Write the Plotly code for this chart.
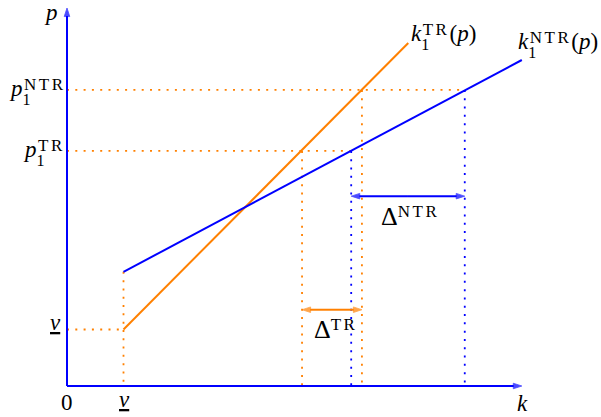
import plotly.graph_objects as go

ORANGE = "#ff8000"
BLUE = "#0000ff"
FONT = "Liberation Serif, DejaVu Serif, Times New Roman, serif"

# Price levels and capacity schedules (arbitrary units)
v_low = 1.0
p1_tr = 4.16
p1_ntr = 5.24
k_tr_line = [1.0, 6.04]
p_tr_line = [1.0, 6.07]
k_ntr_line = [1.0, 8.05]
p_ntr_line = [2.02, 5.77]
k_tr_at = [4.16, 5.22]    # k1^TR evaluated at p1^TR, p1^NTR
k_ntr_at = [5.03, 7.04]   # k1^NTR evaluated at p1^TR, p1^NTR
delta_ntr_level = 3.36
delta_tr_level = 1.35
k_axis_end = 8.05
p_axis_end = 6.69

SCALE = 56.5  # pixels per unit
W, H = 601, 417
X0, Y0 = 67, 386

DOT = "2px,6.3px"

fig = go.Figure()


def seg(xs, ys, color, dash=None, width=2.0, head=False):
    """Straight segment; with head=True an arrow tip is drawn at its last point."""
    fig.add_trace(go.Scatter(
        x=xs, y=ys, mode="lines+markers" if head else "lines",
        hoverinfo="skip", showlegend=False, cliponaxis=False,
        line=dict(color=color, width=width, dash=dash),
        marker=dict(symbol="arrow", size=[0, 9], angleref="previous",
                    color=color, line=dict(width=0.8, color=color)) if head else None,
    ))


# dotted guides
seg([0, k_ntr_at[1]], [p1_ntr, p1_ntr], ORANGE, DOT, 1.8)
seg([0, k_ntr_at[0]], [p1_tr, p1_tr], ORANGE, DOT, 1.8)
seg([0, v_low], [v_low, v_low], ORANGE, DOT, 1.8)
seg([v_low, v_low], [p_ntr_line[0], 0], ORANGE, DOT, 1.8)
seg([k_tr_at[0], k_tr_at[0]], [p1_tr, 0], ORANGE, DOT, 1.8)
seg([k_tr_at[1], k_tr_at[1]], [p1_ntr, 0], ORANGE, DOT, 1.8)
seg([k_ntr_at[0], k_ntr_at[0]], [p1_tr, 0], BLUE, DOT, 1.8)
seg([k_ntr_at[1], k_ntr_at[1]], [p1_ntr, 0], BLUE, DOT, 1.8)

# schedules
seg(k_tr_line, p_tr_line, ORANGE)
seg(k_ntr_line, p_ntr_line, BLUE)

# axes
seg([0, k_axis_end], [0, 0], BLUE, head=True)
seg([0, 0], [0, p_axis_end], BLUE, head=True)


def double_arrow(x0, x1, y, color):
    mid = (x0 + x1) / 2
    seg([mid, x0], [y, y], color, head=True)
    seg([mid, x1], [y, y], color, head=True)


# gaps between the two schedules
double_arrow(k_ntr_at[0], k_ntr_at[1], delta_ntr_level, BLUE)
double_arrow(k_tr_at[0], k_tr_at[1], delta_tr_level, ORANGE)


def note(x, y, text, dx=0, dy=0, size=23, xanchor="center"):
    fig.add_annotation(
        x=x, y=y, xref="x", yref="y", text=text, showarrow=False,
        xshift=dx, yshift=dy, xanchor=xanchor, yanchor="middle",
        borderpad=0, borderwidth=0,
        font=dict(family=FONT, size=size, color="black"),
    )


SUP, SUB = 17, 16


def script(base, sup, sub=None):
    """Base symbol with a superscript stacked over an optional subscript."""
    sup_span = (f'<span style="font-size:{SUP}px;letter-spacing:2.5px;'
                f'baseline-shift:{8 if sub is None else 6}px">{sup}</span>')
    if sub is None:
        return base + sup_span
    return (f'{base}<span style="font-size:{SUB}px;baseline-shift:-9px;'
            f'letter-spacing:-6.5px">{sub}</span>' + sup_span)


DELTA = '<span style="font-size:26px">\u0394</span>'

# axis labels
note(0, p_axis_end, "<i>p</i>", dx=-16, dy=-4.5)
note(k_axis_end, 0, "<i>k</i>", dx=1, dy=-17)
note(0, 0, "0", dy=-16)
note(v_low, 0, "<u><i>v</i></u>", dx=1, dy=-13)
note(0, v_low, "<u><i>v</i></u>", dx=-11.5, dy=7)

# price level labels
note(0, p1_ntr, script("<i>p</i>", "NTR", "1"), dx=-1.5, dy=-1.1, xanchor="right")
note(0, p1_tr, script("<i>p</i>", "TR", "1"), dx=-2.5, dy=-1.2, xanchor="right")

# schedule labels
note(k_tr_line[1], p_tr_line[1], script("<i>k</i>", "TR", "1") + "(<i>p</i>)",
     dx=2.7, dy=6.3, xanchor="left")
note(k_ntr_line[1], p_ntr_line[1], script("<i>k</i>", "NTR", "1") + "(<i>p</i>)",
     dx=-3.8, dy=15.8, xanchor="left")

# gap labels
note((k_ntr_at[0] + k_ntr_at[1]) / 2, delta_ntr_level, script(DELTA, "NTR"),
     dx=-27, dy=-20, xanchor="left")
note((k_tr_at[0] + k_tr_at[1]) / 2, delta_tr_level, script(DELTA, "TR"),
     dx=-18, dy=-19.5, xanchor="left")

fig.update_layout(
    width=W, height=H, margin=dict(l=0, r=0, t=0, b=0),
    paper_bgcolor="white", plot_bgcolor="white",
    xaxis=dict(range=[-X0 / SCALE, (W - X0) / SCALE], visible=False, fixedrange=True),
    yaxis=dict(range=[-(H - Y0) / SCALE, Y0 / SCALE], visible=False, fixedrange=True),
)

fig.write_html("out.html", config={"displayModeBar": False})
